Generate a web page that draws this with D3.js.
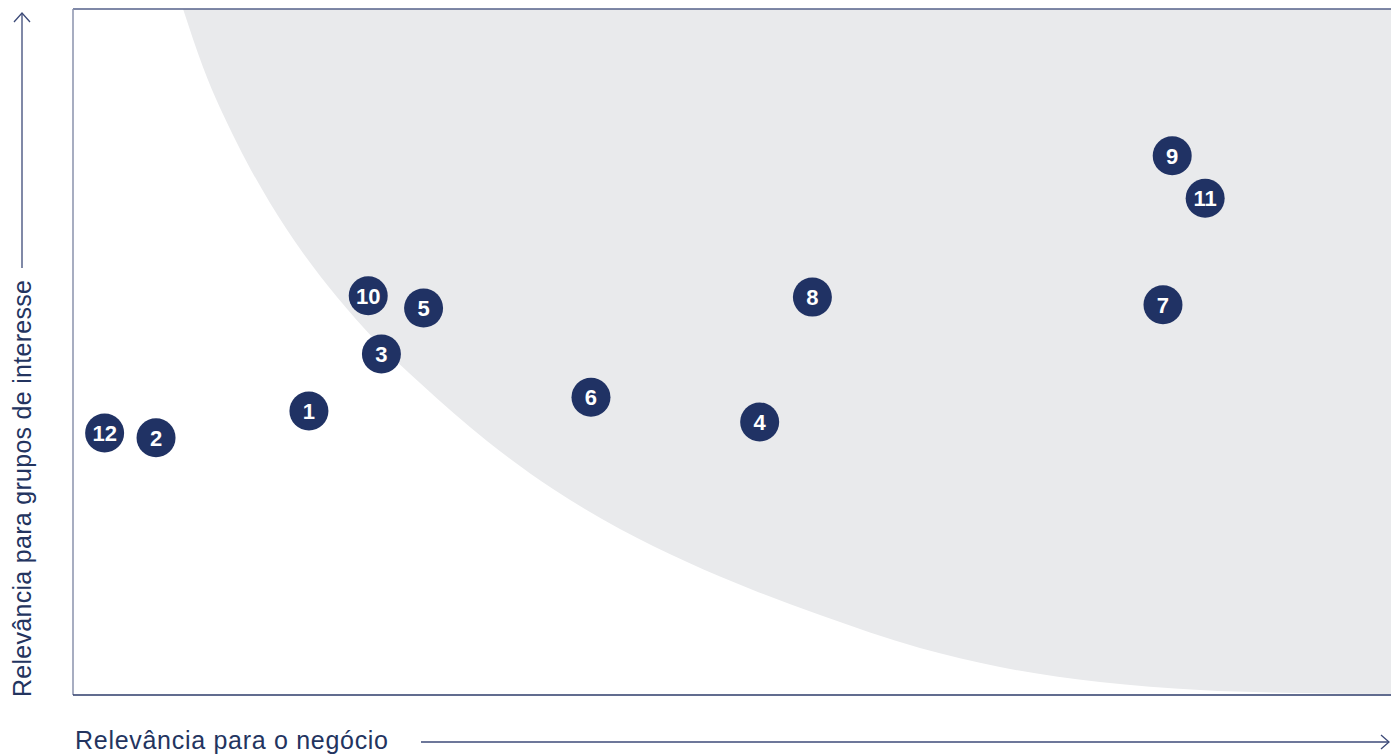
<!DOCTYPE html>
<html>
<head>
<meta charset="utf-8">
<script src="https://cdn.jsdelivr.net/npm/d3@7"></script>
<style>
  html, body { margin: 0; padding: 0; background: #fff; }
  svg { display: block; }
  text { font-family: 'Liberation Sans', Arial, Helvetica, sans-serif; }
</style>
</head>
<body>
<svg id="chart" width="1391" height="754"></svg>
<script>
// ---- data ----
const ids = ["12", "2", "1", "3", "10", "5", "6", "4", "8", "7", "9", "11"];
const businessRelevance = [2.4, 6.3, 17.9, 23.4, 22.4, 26.6, 39.3, 52.1, 56.1, 82.7, 83.4, 85.9];
const stakeholderRelevance = [38.2, 37.5, 41.4, 49.7, 58.2, 56.4, 43.4, 39.8, 58.0, 56.9, 78.6, 72.4];
// materiality threshold curve (x, y in 0-100 units)
const thresholdX = [8.35, 9.86, 12.44, 14.95, 17.45, 20.03, 22.91, 26.33, 31.41, 36.42, 41.5, 46.59, 51.59, 56.68, 64.26, 70.33, 77.92, 85.51, 93.1, 100];
const thresholdY = [100, 91.55, 80.47, 71.72, 64.43, 58.02, 51.75, 45.48, 37.03, 30.03, 24.2, 19.39, 15.31, 11.66, 6.85, 4.08, 1.9, 0.73, 0.29, 0.15];
const xLabel = "Relevância para o negócio";
const yLabel = "Relevância para grupos de interesse";

(function () {
  const svg = d3.select("#chart");
  const plotLeft = 73, plotRight = 1391, plotTop = 9, plotBottom = 695;
  const navy = "#203264";
  const x = d3.scaleLinear().domain([0, 100]).range([plotLeft, plotRight]);
  const y = d3.scaleLinear().domain([0, 100]).range([plotBottom, plotTop]);

  // shaded region
  const curvePts = thresholdX.map((v, i) => [v, thresholdY[i]]);
  const line = d3.line().x(d => x(d[0])).y(d => y(d[1])).curve(d3.curveMonotoneX);
  const areaPath = line(curvePts) + "L" + x(100) + "," + y(100) + "Z";
  svg.append("path").attr("d", areaPath).attr("fill", "#e9eaec");

  // plot frame
  svg.append("line").attr("x1", x(0)).attr("x2", x(100)).attr("y1", y(100)).attr("y2", y(100))
    .attr("stroke", "#55618a").attr("stroke-width", 1.5);
  svg.append("line").attr("x1", x(0)).attr("x2", x(0)).attr("y1", y(100)).attr("y2", y(0))
    .attr("stroke", "#8a92ad").attr("stroke-width", 1.5);
  svg.append("line").attr("x1", x(0)).attr("x2", x(100)).attr("y1", y(0)).attr("y2", y(0))
    .attr("stroke", "#2c3b6a").attr("stroke-width", 1.5);

  // axis arrows
  const arrowColor = "#3c4a78";
  svg.append("line").attr("x1", 421).attr("x2", 1389).attr("y1", 742).attr("y2", 742)
    .attr("stroke", arrowColor).attr("stroke-width", 1.3);
  svg.append("path").attr("d", "M1381,735 L1389,742 L1381,749")
    .attr("fill", "none").attr("stroke", arrowColor).attr("stroke-width", 1.3);
  svg.append("line").attr("x1", 22).attr("x2", 22).attr("y1", 268).attr("y2", 13)
    .attr("stroke", arrowColor).attr("stroke-width", 1.3);
  svg.append("path").attr("d", "M14,22 L22,13 L30,22")
    .attr("fill", "none").attr("stroke", arrowColor).attr("stroke-width", 1.3);

  // axis labels
  svg.append("text").attr("x", 75).attr("y", 749)
    .attr("font-size", 25)
    .attr("fill", "#23345f").attr("textLength", 313).attr("lengthAdjust", "spacing")
    .text(xLabel);
  svg.append("text").attr("transform", "translate(31,697) rotate(-90)")
    .attr("font-size", 25)
    .attr("fill", "#23345f").attr("textLength", 417).attr("lengthAdjust", "spacing")
    .text(yLabel);

  // points
  const pts = ids.map((id, i) => ({ id, bx: businessRelevance[i], sy: stakeholderRelevance[i] }));
  const g = svg.append("g").selectAll("g").data(pts).join("g")
    .attr("transform", d => `translate(${x(d.bx)},${y(d.sy)})`);
  g.append("circle").attr("r", 19.5).attr("fill", navy);
  g.append("text").attr("text-anchor", "middle").attr("dy", "0.36em")
    .attr("font-weight", "bold")
    .attr("font-size", 22).attr("fill", "#fff")
    .text(d => d.id);
})();
</script>
</body>
</html>
